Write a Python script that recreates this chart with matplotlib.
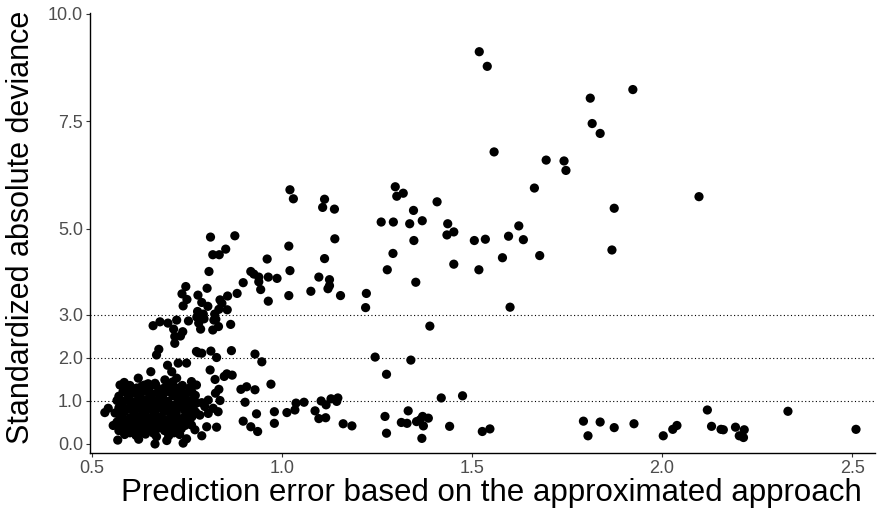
import matplotlib
matplotlib.use("Agg")
import matplotlib.pyplot as plt

plt.rcParams['font.family'] = ['Liberation Sans', 'DejaVu Sans']

# points far to the right / top
far_x = [1.519, 1.540, 1.923, 1.811, 1.816, 1.837, 1.558, 1.695, 1.742, 1.747, 1.664, 1.874,
         1.868, 1.623, 1.596, 1.635, 1.506, 1.535, 1.580, 1.678, 1.518, 2.097, 1.600,
         1.475, 1.527, 1.547, 1.793, 1.805, 1.837, 1.874, 1.926, 2.003, 2.028, 2.039, 2.119,
         2.130, 2.155, 2.161, 2.193, 2.216, 2.203, 2.214, 2.331, 2.510]
far_y = [9.12, 8.78, 8.24, 8.04, 7.45, 7.22, 6.79, 6.60, 6.58, 6.36, 5.95, 5.48,
         4.51, 5.07, 4.83, 4.75, 4.73, 4.76, 4.33, 4.38, 4.05, 5.75, 3.18,
         1.12, 0.29, 0.35, 0.53, 0.19, 0.51, 0.38, 0.47, 0.19, 0.34, 0.43, 0.79,
         0.41, 0.34, 0.33, 0.39, 0.33, 0.19, 0.15, 0.76, 0.34]

# middle part (x ~ 1.0 - 1.45)
mid_x = [1.021, 1.030, 1.112, 1.107, 1.138, 1.139, 1.112, 1.097, 1.125, 1.125, 1.121, 1.076,
         1.154, 1.222, 1.220, 1.018, 1.021, 1.018, 1.298, 1.302, 1.319, 1.408, 1.346, 1.261,
         1.293, 1.336, 1.369, 1.347, 1.436, 1.434, 1.452, 1.292, 1.277, 1.452, 1.352, 1.389,
         1.245, 1.339, 1.275, 1.419,
         1.037, 1.058, 1.034, 1.103, 1.116, 1.129, 1.147, 1.144, 1.087, 1.097, 1.115, 1.161,
         1.184, 1.271, 1.275, 1.332, 1.314, 1.329, 1.354, 1.370, 1.385, 1.372, 1.368, 1.363,
         1.441]
mid_y = [5.91, 5.70, 5.69, 5.50, 5.46, 4.77, 4.31, 3.88, 3.82, 3.68, 3.61, 3.55,
         3.45, 3.50, 3.17, 4.60, 4.03, 3.45, 5.98, 5.76, 5.83, 5.63, 5.43, 5.16,
         5.16, 5.12, 5.19, 4.73, 5.12, 4.86, 4.93, 4.43, 4.05, 4.18, 3.76, 2.74,
         2.02, 1.95, 1.62, 1.07,
         0.95, 0.97, 0.79, 1.00, 0.91, 1.05, 1.07, 0.99, 0.77, 0.59, 0.61, 0.47,
         0.42, 0.64, 0.25, 0.77, 0.50, 0.48, 0.52, 0.64, 0.60, 0.42, 0.13, 0.56,
         0.41]

# left part above the dense cluster
left_x = [0.812, 0.876, 0.818, 0.835, 0.852, 0.808, 0.961, 0.918, 0.926, 0.939, 0.939, 0.964,
          0.987, 0.898, 0.944, 0.964, 0.882, 0.747, 0.737, 0.750, 0.740, 0.779, 0.803, 0.789,
          0.805, 0.837, 0.842, 0.857, 0.856, 0.834, 0.823, 0.826, 0.778, 0.793, 0.776, 0.795,
          0.781, 0.821, 0.833, 0.818, 0.865, 0.786, 0.754, 0.723, 0.661, 0.679, 0.700, 0.715,
          0.739, 0.718, 0.733,
          0.718, 0.676, 0.670, 0.775, 0.699, 0.727, 0.749, 0.655, 0.710, 0.622, 0.692, 0.723,
          0.762, 0.775, 0.574, 0.591, 0.604, 0.639, 0.666, 0.736, 0.543, 0.534,
          0.780, 0.789, 0.813, 0.828, 0.867, 0.929, 0.947, 0.811, 0.824, 0.848, 0.855, 0.869,
          0.834, 0.825, 0.892, 0.907, 0.929, 0.971, 0.837, 0.806, 0.789, 0.903, 0.797, 0.819,
          0.832, 0.784, 0.806, 0.933, 0.980, 1.013, 0.898, 0.980, 0.918, 0.936, 0.802, 0.828,
          0.771, 0.789]
left_y = [4.81, 4.84, 4.40, 4.40, 4.53, 4.01, 4.30, 4.01, 3.95, 3.88, 3.77, 3.88,
          3.85, 3.75, 3.59, 3.32, 3.50, 3.66, 3.49, 3.36, 3.21, 3.46, 3.62, 3.29,
          3.20, 3.35, 3.27, 3.44, 3.12, 3.13, 3.02, 2.90, 3.08, 3.02, 2.95, 2.91,
          2.81, 2.88, 2.73, 2.65, 2.78, 2.67, 2.86, 2.88, 2.75, 2.84, 2.81, 2.67,
          2.61, 2.50, 2.51,
          2.34, 2.20, 2.07, 2.15, 1.83, 1.88, 1.88, 1.68, 1.68, 1.53, 1.49, 1.53,
          1.45, 1.37, 1.37, 1.37, 1.29, 1.37, 1.41, 1.33, 0.83, 0.73,
          2.12, 2.11, 2.16, 2.01, 2.17, 2.09, 1.91, 1.72, 1.50, 1.57, 1.63, 1.60,
          1.27, 1.18, 1.27, 1.33, 1.26, 1.39, 1.01, 1.02, 0.96, 0.97, 0.87, 0.83,
          0.75, 0.67, 0.71, 0.70, 0.75, 0.73, 0.53, 0.48, 0.40, 0.29, 0.40, 0.39,
          0.33, 0.19]

# dense cluster bottom left
blob_x = [0.585, 0.648, 0.712,
          0.600, 0.632, 0.668, 0.700, 0.738,
          0.618, 0.652, 0.688, 0.718, 0.757,
          0.582, 0.611, 0.641, 0.673, 0.702, 0.731, 0.763,
          0.596, 0.626, 0.657, 0.688, 0.717, 0.748,
          0.571, 0.598, 0.627, 0.656, 0.684, 0.713, 0.744, 0.772,
          0.566, 0.592, 0.619, 0.646, 0.672, 0.699, 0.727, 0.753, 0.768,
          0.582, 0.611, 0.640, 0.668, 0.698, 0.728, 0.755,
          0.578, 0.604, 0.633, 0.661, 0.687, 0.714, 0.741, 0.762,
          0.571, 0.596, 0.623, 0.651, 0.676, 0.703, 0.731, 0.758,
          0.580, 0.606, 0.634, 0.661, 0.688, 0.716, 0.744, 0.768,
          0.561, 0.586, 0.612, 0.641, 0.666, 0.693, 0.722, 0.748, 0.773,
          0.574, 0.601, 0.627, 0.655, 0.682, 0.707, 0.736, 0.763,
          0.585, 0.611, 0.640, 0.667, 0.693, 0.720, 0.748,
          0.566, 0.591, 0.617, 0.646, 0.671, 0.697, 0.727, 0.756,
          0.572, 0.600, 0.628, 0.656, 0.684, 0.712, 0.740,
          0.556, 0.582, 0.606, 0.636, 0.661, 0.687, 0.716, 0.745,
          0.585, 0.614, 0.643, 0.673, 0.705, 0.735,
          0.571, 0.601, 0.629, 0.657, 0.691, 0.722,
          0.600, 0.628, 0.662, 0.716,
          0.586, 0.616, 0.641, 0.702, 0.731,
          0.568, 0.623, 0.697, 0.749,
          0.670, 0.740, 0.666, 0.762, 0.775]
blob_y = [1.43, 1.40, 1.44,
          1.36, 1.35, 1.37, 1.34, 1.36,
          1.30, 1.33, 1.29, 1.32, 1.30,
          1.22, 1.19, 1.23, 1.20, 1.22, 1.18, 1.21,
          1.16, 1.15, 1.17, 1.16, 1.15, 1.17,
          1.11, 1.13, 1.10, 1.14, 1.11, 1.12, 1.09, 1.13,
          1.01, 1.03, 1.00, 1.04, 1.02, 0.99, 1.03, 1.01, 1.05,
          0.97, 0.98, 0.96, 0.98, 0.97, 0.96, 0.98,
          0.92, 0.94, 0.91, 0.95, 0.93, 0.90, 0.94, 0.91,
          0.84, 0.82, 0.85, 0.81, 0.84, 0.82, 0.86, 0.83,
          0.78, 0.79, 0.77, 0.78, 0.79, 0.77, 0.78, 0.79,
          0.72, 0.75, 0.71, 0.74, 0.72, 0.76, 0.73, 0.70, 0.74,
          0.63, 0.61, 0.64, 0.60, 0.63, 0.62, 0.59, 0.63,
          0.57, 0.56, 0.58, 0.57, 0.56, 0.58, 0.57,
          0.51, 0.54, 0.50, 0.53, 0.51, 0.54, 0.50, 0.52,
          0.47, 0.46, 0.48, 0.47, 0.46, 0.48, 0.47,
          0.43, 0.41, 0.44, 0.40, 0.42, 0.45, 0.41, 0.43,
          0.36, 0.37, 0.35, 0.36, 0.37, 0.35,
          0.31, 0.33, 0.30, 0.34, 0.31, 0.29,
          0.26, 0.27, 0.25, 0.26,
          0.22, 0.20, 0.23, 0.19, 0.22,
          0.09, 0.11, 0.08, 0.12,
          0.17, 0.02, 0.00, 0.44, 0.95]

y_ticks = [0.0, 1.0, 2.0, 3.0, 5.0, 7.5, 10.0]
y_tick_labels = ["0.0", "1.0", "2.0", "3.0", "5.0", "7.5", "10.0"]
x_ticks = [0.5, 1.0, 1.5, 2.0, 2.5]
x_tick_labels = ["0.5", "1.0", "1.5", "2.0", "2.5"]
ref_lines = [1.0, 2.0, 3.0]

xs = far_x + mid_x + left_x + blob_x
ys = far_y + mid_y + left_y + blob_y

fig = plt.figure(figsize=(8.8, 5.16), dpi=100)
ax = fig.add_axes([90 / 880, 1 - 453 / 516, 785 / 880, 440 / 516])

for h in ref_lines:
    ax.axhline(h, color='black', linewidth=0.8, linestyle=(0, (1, 2.2)), zorder=1)

ax.scatter(xs, ys, s=44, color='black', edgecolors='none', zorder=3)

ax.set_xlim(0.495, 2.56)
ax.set_ylim(-0.21, 10.02)
ax.set_xticks(x_ticks)
ax.set_xticklabels(x_tick_labels)
ax.set_yticks(y_ticks)
ax.set_yticklabels(y_tick_labels)
ax.tick_params(axis='both', labelsize=13, labelcolor='#4D4D4D', color='#333333',
               length=3, width=0.8, pad=2)

for side in ['top', 'right']:
    ax.spines[side].set_visible(False)
for side in ['left', 'bottom']:
    ax.spines[side].set_linewidth(1.0)
    ax.spines[side].set_color('black')

fig.text(491 / 880, 1 - 493 / 516, "Prediction error based on the approximated approach",
         fontsize=22.5, ha='center', va='center')
fig.text(21 / 880, 1 - 227 / 516, "Standardized absolute deviance",
         fontsize=22, ha='center', va='center', rotation=90)

fig.savefig("out.png", dpi=100)
